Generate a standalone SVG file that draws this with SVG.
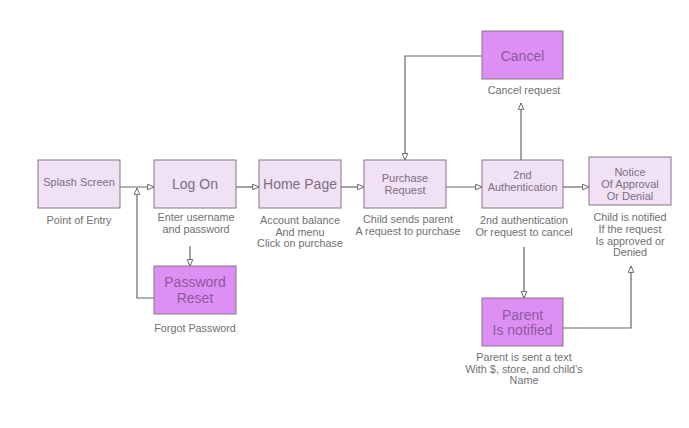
<svg xmlns="http://www.w3.org/2000/svg" width="689" height="428" viewBox="0 0 689 428">
<style>
.lb{fill:#f0e1f4;stroke:#857585;stroke-width:1}
.db{fill:#dd8ff3;stroke:#857585;stroke-width:1}
.t{font-family:"Liberation Sans",Arial,sans-serif;text-anchor:middle}
.tl{fill:#7d6f80}
.td{fill:#8e5a9e}
.lab{font-family:"Liberation Sans",Arial,sans-serif;text-anchor:middle;font-size:10.8px;fill:#707070}
.c{fill:none;stroke:#666;stroke-width:1.2}
</style>
<defs>
<marker id="a" viewBox="0 0 10 10" refX="9" refY="5" markerWidth="8" markerHeight="8" markerUnits="userSpaceOnUse" orient="auto">
<path d="M1,1.5 L9,5 L1,8.5 Z" fill="#fff" stroke="#666" stroke-width="1.2"/>
</marker>
</defs>
<rect width="689" height="428" fill="#fff"/>
<g id="connectors">
<path class="c" d="M120,187 H154" marker-end="url(#a)"/>
<path class="c" d="M236,187 H259" marker-end="url(#a)"/>
<path class="c" d="M341,187 H364" marker-end="url(#a)"/>
<path class="c" d="M446,187 H482" marker-end="url(#a)"/>
<path class="c" d="M563,187 H589" marker-end="url(#a)"/>
<path class="c" d="M190,246 V266" marker-end="url(#a)"/>
<path class="c" d="M154,298 H137 V188" marker-end="url(#a)"/>
<path class="c" d="M482,56 H405 V160" marker-end="url(#a)"/>
<path class="c" d="M521,160 V103" marker-end="url(#a)"/>
<path class="c" d="M524,247 V298" marker-end="url(#a)"/>
<path class="c" d="M563,328 H631 V266" marker-end="url(#a)"/>
</g>
<g id="splash">
<rect class="lb" x="38" y="160" width="82" height="48"/>
<text class="t tl" x="79" y="186" font-size="11">Splash Screen</text>
<text class="lab" x="79" y="224">Point of Entry</text>
</g>
<g id="logon">
<rect class="lb" x="154" y="160" width="82" height="48"/>
<text class="t tl" x="195" y="189" font-size="14">Log On</text>
<text class="lab" x="196" y="221">Enter username</text>
<text class="lab" x="196" y="233">and password</text>
</g>
<g id="home">
<rect class="lb" x="259" y="160" width="82" height="48"/>
<text class="t tl" x="300" y="189" font-size="14">Home Page</text>
<text class="lab" x="300" y="224">Account balance</text>
<text class="lab" x="300" y="235.5">And menu</text>
<text class="lab" x="300" y="247">Click on purchase</text>
</g>
<g id="purchase">
<rect class="lb" x="364" y="160" width="82" height="48"/>
<text class="t tl" x="405" y="182" font-size="11">Purchase</text>
<text class="t tl" x="405" y="194" font-size="11">Request</text>
<text class="lab" x="408" y="223">Child sends parent</text>
<text class="lab" x="408" y="234.5">A request to purchase</text>
</g>
<g id="auth">
<rect class="lb" x="482" y="160" width="81" height="48"/>
<text class="t tl" x="522.5" y="179" font-size="11">2nd</text>
<text class="t tl" x="522.5" y="191" font-size="11">Authentication</text>
<text class="lab" x="524" y="224">2nd authentication</text>
<text class="lab" x="524" y="235.5">Or request to cancel</text>
</g>
<g id="notice">
<rect class="lb" x="589" y="157" width="82" height="48"/>
<text class="t tl" x="630" y="176" font-size="11">Notice</text>
<text class="t tl" x="630" y="188" font-size="11">Of Approval</text>
<text class="t tl" x="630" y="200" font-size="11">Or Denial</text>
<text class="lab" x="630" y="221">Child is notified</text>
<text class="lab" x="630" y="232.5">If the request</text>
<text class="lab" x="630" y="244.5">Is approved or</text>
<text class="lab" x="630" y="256">Denied</text>
</g>
<g id="reset">
<rect class="db" x="154" y="266" width="82" height="48"/>
<text class="t td" x="195" y="287" font-size="14">Password</text>
<text class="t td" x="195" y="303" font-size="14">Reset</text>
<text class="lab" x="195" y="332">Forgot Password</text>
</g>
<g id="cancel">
<rect class="db" x="482" y="31" width="81" height="48"/>
<text class="t td" x="522.5" y="61" font-size="14">Cancel</text>
<text class="lab" x="524" y="94">Cancel request</text>
</g>
<g id="parent">
<rect class="db" x="482" y="298" width="81" height="48"/>
<text class="t td" x="522.5" y="320" font-size="14">Parent</text>
<text class="t td" x="522.5" y="335" font-size="14">Is notified</text>
<text class="lab" x="524" y="361">Parent is sent a text</text>
<text class="lab" x="524" y="372.5">With $, store, and child’s</text>
<text class="lab" x="524" y="384">Name</text>
</g>
</svg>
